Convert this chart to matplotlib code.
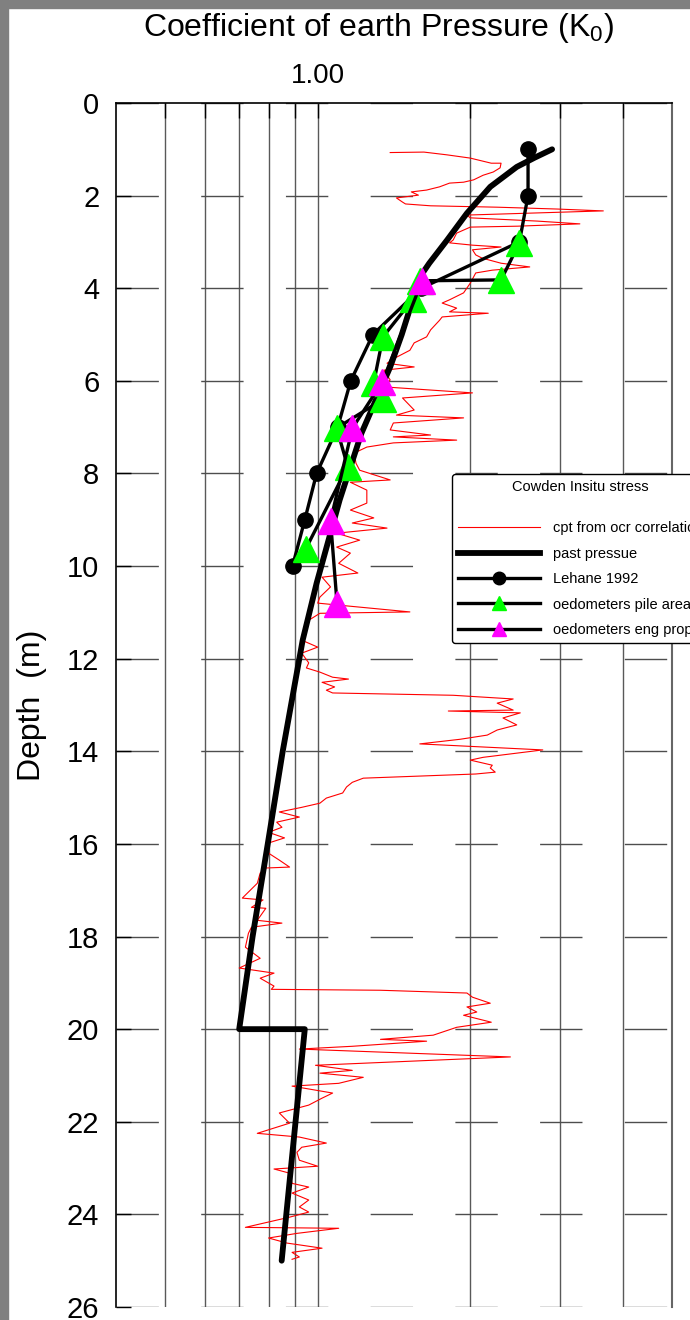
import matplotlib
matplotlib.use("Agg")
import matplotlib.pyplot as plt
from matplotlib.lines import Line2D
from matplotlib.patches import Rectangle
from matplotlib.ticker import FixedLocator, NullFormatter

plt.rcParams['font.family'] = ['Liberation Sans', 'DejaVu Sans']
plt.rcParams['mathtext.default'] = 'regular'

# ---------------- data ----------------
red_depth = [1.07,1.06,1.12,1.19,1.30,1.30,1.40,1.49,1.56,1.66,
             1.71,1.73,1.81,1.88,1.92,1.99,2.05,2.14,2.18,2.22,
             2.25,2.29,2.33,2.42,2.48,2.55,2.61,2.66,2.68,2.81,
             2.96,3.02,3.07,3.11,3.17,3.28,3.35,3.46,3.54,3.61,
             3.67,3.89,4.10,4.25,4.32,4.43,4.51,4.54,4.62,4.69,
             4.90,5.05,5.18,5.34,5.49,5.62,5.70,5.77,5.98,6.13,
             6.26,6.37,6.63,6.74,6.80,6.91,7.06,7.17,7.21,7.28,
             7.34,7.43,7.56,7.78,7.93,8.14,8.19,8.36,8.64,8.79,
             8.96,9.07,9.18,9.29,9.44,9.59,9.72,9.94,10.15,10.24,
             10.45,10.67,10.80,10.99,11.02,11.17,11.38,11.60,11.75,11.88,
             12.09,12.20,12.29,12.40,12.44,12.51,12.61,12.68,12.74,12.79,
             12.87,12.96,13.11,13.13,13.17,13.28,13.43,13.54,13.65,13.74,
             13.84,13.97,14.13,14.19,14.30,14.36,14.45,14.49,14.56,14.58,
             14.67,14.77,14.90,15.01,15.12,15.21,15.31,15.42,15.53,15.64,
             15.75,15.87,15.98,16.20,16.35,16.50,16.52,16.63,16.85,17.17,
             17.21,17.37,17.39,17.65,17.71,17.80,17.93,18.23,18.47,18.68,
             18.79,18.90,19.07,19.14,19.16,19.22,19.31,19.44,19.52,19.63,
             19.70,19.85,19.96,20.13,20.22,20.26,20.37,20.43,20.60,20.78,
             20.89,20.95,21.04,21.17,21.23,21.38,21.49,21.64,21.81,22.03,
             22.25,22.33,22.46,22.55,22.66,22.83,22.96,23.02,23.11,23.33,
             23.41,23.54,23.69,23.84,23.95,24.06,24.28,24.30,24.41,24.51,
             24.62,24.73,24.82,24.92,24.97]
red_k = [1.39,1.62,1.80,2.00,2.20,2.30,2.29,2.22,2.12,2.03,
         1.94,1.82,1.74,1.64,1.53,1.58,1.43,1.47,1.49,1.67,
         2.26,2.97,3.66,1.97,2.00,2.71,3.29,2.48,2.00,1.88,
         1.85,1.82,2.02,2.30,2.02,2.05,2.11,2.30,2.62,2.21,
         2.05,2.00,1.94,1.82,1.76,1.88,1.82,2.17,1.76,1.74,
         1.67,1.64,1.55,1.52,1.43,1.37,1.55,1.35,1.39,1.35,
         2.02,1.47,1.55,1.43,1.94,1.41,1.39,1.67,1.41,1.88,
         1.41,1.25,1.18,1.19,1.21,1.39,1.16,1.25,1.25,1.16,
         1.29,1.17,1.37,1.09,1.21,1.09,1.16,1.10,1.20,1.02,
         1.06,1.01,1.00,1.52,1.01,0.96,0.95,0.93,1.00,0.93,
         0.96,0.95,1.01,1.07,1.15,1.02,1.08,1.04,1.07,1.85,
         2.43,2.26,2.43,1.81,2.51,2.32,2.47,2.26,2.16,1.91,
         1.59,2.78,2.12,2.00,2.21,2.19,2.24,2.05,1.37,1.23,
         1.17,1.14,1.12,1.04,1.01,0.93,0.84,0.92,0.83,0.85,
         0.80,0.86,0.80,0.80,0.84,0.88,0.79,0.77,0.76,0.71,
         0.78,0.74,0.79,0.76,0.85,0.74,0.73,0.72,0.77,0.70,
         0.82,0.77,0.82,0.81,1.33,1.97,2.02,2.19,1.97,2.06,
         1.94,2.20,1.88,1.69,1.33,1.64,1.17,0.92,2.40,0.99,
         1.17,1.01,1.23,1.10,0.89,1.07,1.02,0.96,0.84,0.88,
         0.76,0.92,1.04,0.93,0.91,0.92,1.00,0.82,0.88,0.89,
         0.96,0.89,0.96,0.92,0.96,0.88,0.72,1.10,0.91,0.80,
         0.87,1.02,0.89,0.92,0.89]

past_depth = [1.0, 1.18, 1.38, 1.81, 2.38, 2.96, 3.46, 3.76, 4.25, 5.0, 5.70,
              7.13, 8.57, 10.37, 11.60, 14.0, 16.0, 18.0, 20.0, 20.0, 25.0]
past_k = [2.90, 2.68, 2.47, 2.19, 1.97, 1.80, 1.66, 1.59, 1.54, 1.465, 1.39,
          1.22, 1.105, 0.995, 0.934, 0.853, 0.797, 0.744, 0.70, 0.943, 0.849]

lehane_depth = [1, 2, 3, 4, 5, 6, 7, 8, 9, 10]
lehane_k = [2.60, 2.60, 2.50, 1.60, 1.285, 1.162, 1.095, 0.995, 0.943, 0.892]

pile_depth = [3.02, 3.82, 3.84, 4.24, 5.05, 6.04, 6.40, 7.02, 7.85, 9.63]
pile_k = [2.50, 2.30, 1.59, 1.54, 1.345, 1.29, 1.345, 1.09, 1.146, 0.947]

eng_depth = [3.85, 6.02, 7.02, 9.02, 10.82]
eng_k = [1.605, 1.342, 1.171, 1.06, 1.092]

major_x = [1.0]
major_x_labels = ['1.00']
minor_x = [0.5, 0.6, 0.7, 0.8, 0.9, 2, 3, 4]
y_ticks = list(range(0, 27, 2))

legend_labels = ['cpt from ocr correlation', 'past pressue', 'Lehane 1992',
                 'oedometers pile area', 'oedometers eng props']

# ---------------- figure ----------------
W, H = 690, 1320
fig = plt.figure(figsize=(W / 100, H / 100), dpi=100)
fig.patch.set_facecolor('white')
ax = fig.add_axes([116 / W, 1 - 1307 / H, (672 - 116) / W, (1307 - 103) / H])

ax.set_xscale('log')
ax.set_xlim(0.4, 5)
ax.set_ylim(26, 0)

ax.plot(red_k, red_depth, color='#ff0000', lw=0.8, zorder=3)
ax.plot(past_k, past_depth, color='black', lw=4.2, solid_capstyle='round',
        solid_joinstyle='round', zorder=4)
ax.plot(lehane_k, lehane_depth, color='black', lw=2.4, marker='o', ms=11,
        mfc='black', mec='black', zorder=5)
ax.plot(pile_k, pile_depth, color='black', lw=2.4, marker='^', ms=19,
        mfc='#00ff00', mec='#00ff00', zorder=6)
ax.plot(eng_k, eng_depth, color='black', lw=2.4, marker='^', ms=19,
        mfc='#ff00ff', mec='#ff00ff', zorder=7)

# axes / ticks
ax.xaxis.tick_top()
ax.xaxis.set_major_locator(FixedLocator(major_x))
ax.set_xticklabels(major_x_labels)
ax.xaxis.set_minor_locator(FixedLocator(minor_x))
ax.xaxis.set_minor_formatter(NullFormatter())
ax.tick_params(axis='x', which='both', direction='in', length=11, width=1,
               color='black', top=True, bottom=False, labelsize=20, pad=10)
ax.set_yticks(y_ticks)
ax.tick_params(axis='y', which='both', direction='in', length=11, width=1,
               left=True, right=False, labelsize=21, pad=12)

ax.grid(axis='x', which='both', color='0.35', lw=1, ls='-', zorder=1)
ax.grid(axis='y', which='major', color='0.3', lw=1, ls=(0, (30.5, 30.5)), zorder=1)
ax.set_axisbelow(True)

for s in ['top', 'left']:
    ax.spines[s].set_color('black')
    ax.spines[s].set_linewidth(1.2)
ax.spines['right'].set_color('0.4')
ax.spines['right'].set_linewidth(1.5)
ax.spines['bottom'].set_visible(False)

ax.set_ylabel('Depth  (m)', fontsize=23, labelpad=14)

fig.text(378 / W, 1 - 28 / H, 'Coefficient of earth Pressure (K$_0$)',
         ha='center', va='center', fontsize=23)

# legend
handles = [
    Line2D([], [], color='#ff0000', lw=0.8),
    Line2D([], [], color='black', lw=4.2),
    Line2D([], [], color='black', lw=2.4, marker='o', ms=9, mfc='black'),
    Line2D([], [], color='black', lw=2.4, marker='^', ms=10, mfc='#00ff00', mec='#00ff00'),
    Line2D([], [], color='black', lw=2.4, marker='^', ms=10, mfc='#ff00ff', mec='#ff00ff'),
]
leg = ax.legend(handles, legend_labels, loc='upper left',
                bbox_to_anchor=((452 - 116) / 556, (1307 - 474) / 1204),
                borderaxespad=0, fontsize=10.5, title='Cowden Insitu stress\n ',
                title_fontsize=10.5, handlelength=5.6, handletextpad=0.9,
                labelspacing=0.78, borderpad=0.4, fancybox=True,
                framealpha=1, edgecolor='black', frameon=True)
leg.get_frame().set_linewidth(1.0)
leg.set_zorder(10)

# grey border strips
fig.patches.append(Rectangle((0, 0), 8 / W, 1, transform=fig.transFigure,
                             color='#808080', zorder=0))
fig.patches.append(Rectangle((0, 1 - 8 / H), 1, 8 / H, transform=fig.transFigure,
                             color='#808080', zorder=0))

fig.savefig('out.png', dpi=100)
